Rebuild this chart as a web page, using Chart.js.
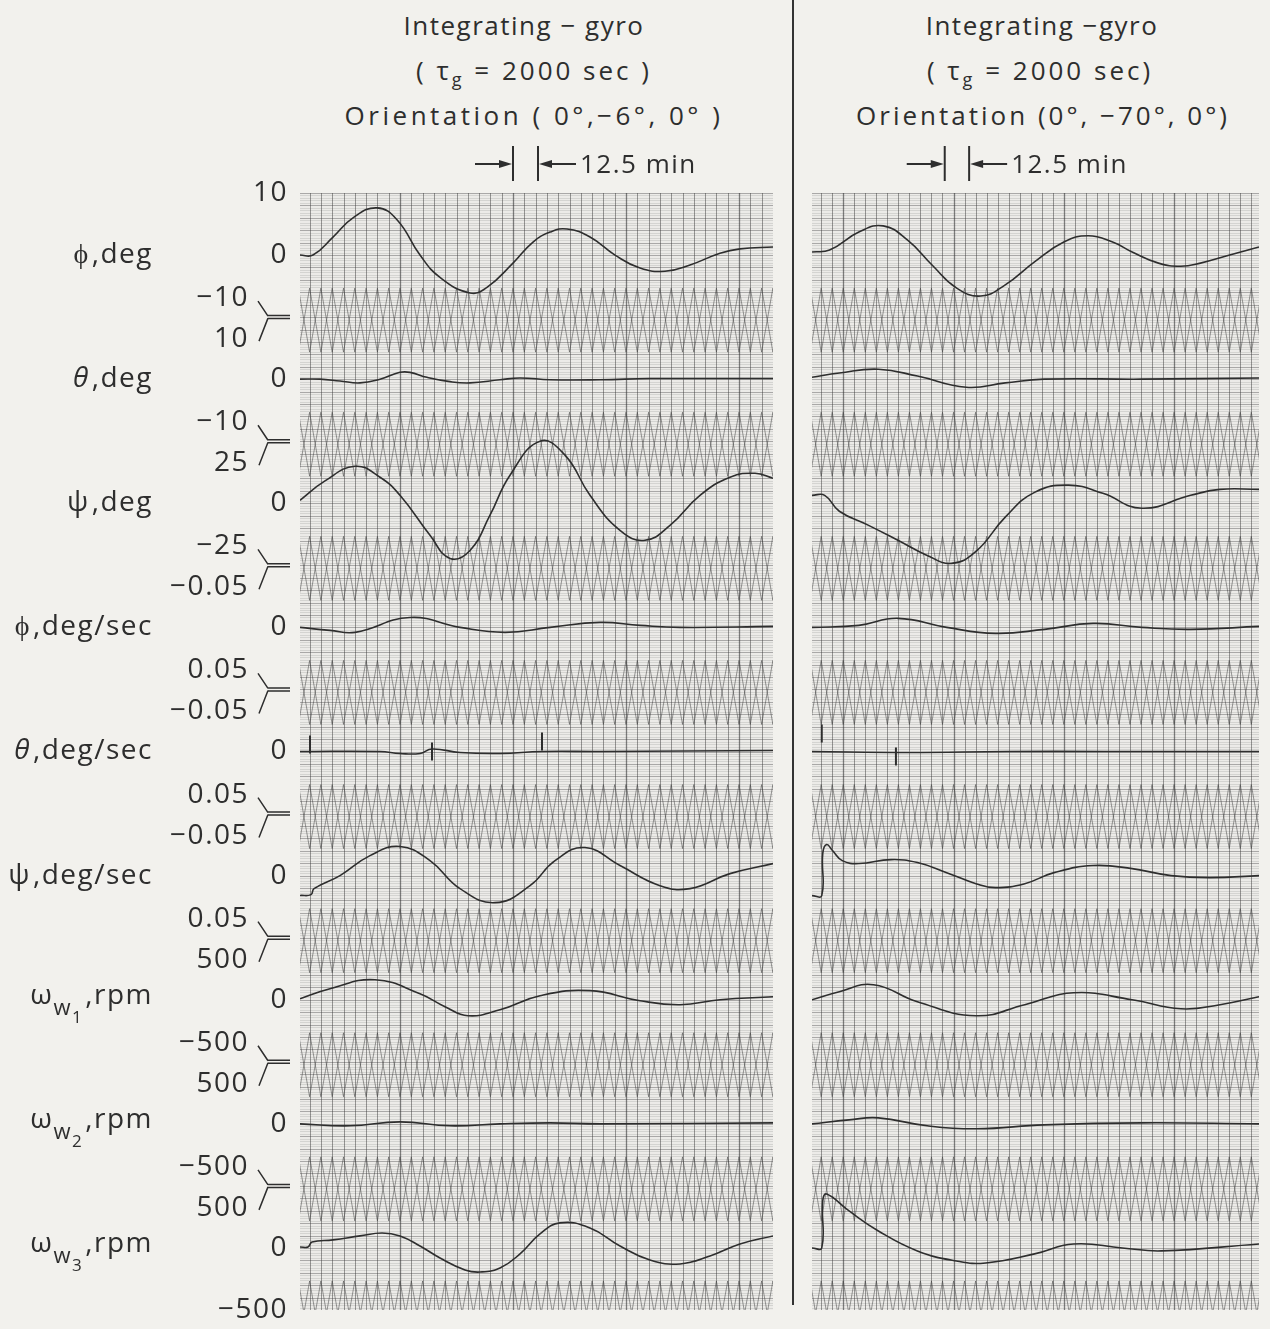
<!DOCTYPE html>
<html>
<head>
<meta charset="utf-8">
<script src="https://cdn.jsdelivr.net/npm/chart.js@4.4.0/dist/chart.umd.min.js"></script>
<style>
  body { margin: 0; background: #f2f1ed; width: 1270px; height: 1329px; overflow: hidden; position: relative; font-family: "Open Sans", sans-serif; color: #2e2e2e; }
  canvas { position: absolute; top: 0; }
  #cl { left: 0; }
  #cr { left: 800px; }
  .t { position: absolute; font-size: 26px; white-space: nowrap; transform: translateX(-50%); letter-spacing: 1.5px; line-height: 36px; }
  .t sub { font-size: 18px; vertical-align: -6px; }
  #divider { position: absolute; left: 792px; top: 0; width: 2px; height: 1305px; background: #333; }
</style>
</head>
<body>
<div class="t" style="left:524px;top:7px">Integrating − gyro</div>
<div class="t" style="left:534px;top:52px;letter-spacing:3px">( τ<sub>g</sub> = 2000 sec )</div>
<div class="t" style="left:534px;top:97px;letter-spacing:3.5px">Orientation ( 0°,−6°, 0° )</div>
<div class="t" style="left:1042px;top:7px">Integrating −gyro</div>
<div class="t" style="left:1040px;top:52px;letter-spacing:3px">( τ<sub>g</sub> = 2000 sec)</div>
<div class="t" style="left:1043px;top:97px;letter-spacing:3px">Orientation (0°, −70°, 0°)</div>
<div id="divider"></div>
<canvas id="cl" width="790" height="1329"></canvas>
<canvas id="cr" width="470" height="1329"></canvas>
<script>
// channel labels and scales (top of each strip = fullScale)
const channelNames = ["ϕ,deg", "θ,deg", "ψ,deg", "ϕ,deg/sec", "θ,deg/sec", "ψ,deg/sec", "ω,rpm", "ω,rpm", "ω,rpm"];
const wheelIndex = ["", "", "", "", "", "", "1", "2", "3"];
const fullScale = [10, 10, 25, -0.05, -0.05, -0.05, 500, 500, 500];
const topTick = "10";
const bottomTick = "−500";
const upperTicks = ["−10", "−10", "−25", "0.05", "0.05", "0.05", "−500", "−500"];
const lowerTicks = ["10", "25", "−0.05", "−0.05", "−0.05", "500", "500", "500"];
const markerLabel = "12.5 min";

// left panel, orientation (0,-6,0): [time min, value]
const leftPhi = [[0,0],[6.5,0],[16.5,2.9],[26.5,6.0],[38.5,7.6],[48.5,5.7],[60,0],[70,-3.6],[85,-6.1],[93.5,-5.2],[106.5,-1.3],[116.5,2.1],[125,3.7],[133.5,4.2],[145,2.9],[157.5,0],[170,-2.1],[182.5,-2.6],[195,-1.6],[210,0.3],[220,1.0],[236.5,1.3]];
const leftTheta = [[0,0],[10,0],[20,-0.3],[30,-0.6],[40,0],[50,1.1],[55,1.1],[63.5,0.3],[75,-0.4],[85,-0.6],[100,-0.1],[110,0.2],[125,-0.1],[150,-0.1],[175,0.1],[200,0.1],[236.5,0.1]];
const leftPsi = [[0,1.2],[12.5,9],[27.5,14.9],[40,10.5],[50,3.2],[65,-12.9],[75,-22.2],[85,-19],[95,-4.8],[105,11.3],[120,25],[132.5,19.4],[145,3.2],[160,-10.9],[172.5,-14.9],[185,-8.9],[200,3.2],[215,10.5],[227.5,12.1],[236.5,10.1]];
const leftPhiDot = [[0,0],[15,0.0024],[27.5,0.004],[55,-0.008],[80,0],[102.5,0.004],[125,0],[150,-0.004],[170,-0.0016],[190,0],[236.5,-0.0008]];
const leftThetaDot = [[0,0],[40,0],[50,0.0016],[60,0.0016],[66,-0.002],[80,0.0008],[100,0.0016],[121,0],[150,0],[236.5,-0.0008]];
const leftThetaMarks = [[5,-0.0056],[66,0],[121,-0.008]];
const leftPsiDot = [[0,0.016],[5.5,0.0153],[7,0.0105],[20,0],[35,-0.0161],[50,-0.0234],[65,-0.0121],[80,0.0105],[97.5,0.0218],[115,0.0081],[127.5,-0.0121],[142.5,-0.0226],[160,-0.0081],[180,0.0081],[195,0.0105],[215,-0.0016],[236.5,-0.0097]];
const leftW1 = [[0,8],[15,89],[37.5,161],[60,48],[72.5,-56],[84,-129],[100,-81],[120,32],[145,73],[170,-8],[190,-40],[210,0],[236.5,24]];
const leftW2 = [[0,0],[25,-16],[50,16],[75,-16],[100,0],[125,8],[150,0],[236.5,8]];
const leftW3 = [[0,8],[4,8],[6,48],[16.5,65],[30,97],[41,121],[50,97],[60,16],[70,-81],[82.5,-177],[90,-194],[100,-161],[110,-48],[120,113],[130,202],[145,161],[160,16],[175,-97],[190,-129],[205,-65],[220,32],[236.5,97]];

// right panel, orientation (0,-70,0)
const rightPhi = [[0,0.5],[9,0.8],[24,3.7],[36.5,4.7],[49,2.4],[61.5,-1.6],[74,-5.3],[86.5,-6.6],[99,-4.8],[114,-1.1],[129,2.1],[141.5,3.1],[154,2.1],[164,0.5],[177.5,-1.3],[189,-1.8],[199,-1.3],[214,0],[229,1.3]];
const rightTheta = [[0,0.3],[14,1.0],[34,1.6],[54,0.5],[79,-1.3],[99,-0.6],[119,0],[169,0],[229,0.2]];
const rightPsi = [[0,3.2],[6.5,3.2],[14,-3.2],[29,-8.9],[44,-14.9],[59,-21],[71.5,-24.2],[84,-19.4],[99,-5.6],[114,4.4],[131.5,7.3],[149,4],[169,-2],[194,3.2],[209,5.6],[229,5.6]];
const rightPhiDot = [[0,0],[24,-0.0016],[44,-0.0073],[69,0],[94,0.0048],[119,0.0016],[144,-0.0032],[169,0],[194,0.0016],[229,-0.0008]];
const rightThetaDot = [[0,0],[50,0.0008],[100,0],[150,0],[229,0]];
const rightThetaMarks = [[5,-0.0145],[43,0.004]];
const rightPsiDot = [[0,0.0161],[5,0.0161],[5.5,-0.0177],[7.5,-0.025],[10.5,-0.0202],[15.5,-0.0121],[24,-0.0097],[40.5,-0.0129],[54,-0.0105],[69,-0.0024],[84,0.0065],[94,0.0097],[109,0.0065],[124,-0.0024],[144,-0.0081],[164,-0.0056],[184,0],[204,0.0016],[229,0]];
const rightW1 = [[0,0],[14,65],[31.5,121],[54,-16],[84,-129],[109,-40],[134,56],[164,0],[189,-73],[209,-40],[229,24]];
const rightW2 = [[0,0],[19,32],[34,48],[59,-16],[84,-40],[119,-8],[169,8],[229,0]];
const rightW3 = [[0,0],[5,0],[5.5,379],[7.5,435],[19,298],[34,137],[54,-24],[74,-105],[89,-121],[114,-48],[134,32],[159,0],[179,-24],[229,32]];

const INK = '#2e2e2e';
const FONT = '28px "Open Sans"';

function toPts(series, i) {
  return series.map(p => ({ x: p[0], y: 8.5 - i + p[1] / fullScale[i] * 0.5 }));
}

// recorder paper: hatching, division lines and zigzag bands between strips
const paper = {
  id: 'paper',
  beforeDatasetsDraw(chart, args, o) {
    const { ctx, chartArea: a, scales: { x, y } } = chart;
    ctx.save();
    ctx.beginPath();
    ctx.rect(a.left, a.top, a.width, a.height);
    ctx.clip();
    ctx.fillStyle = '#ecebe8';
    ctx.fillRect(a.left, a.top, a.width, a.height);
    ctx.lineWidth = 1;
    for (let n = 0; n <= 450; n++) {
      const py = Math.round(y.getPixelForValue(n / 50)) + 0.5;
      ctx.strokeStyle = n % 5 === 0 ? 'rgba(60,60,60,0.38)' : 'rgba(80,80,80,0.15)';
      ctx.beginPath(); ctx.moveTo(a.left, py); ctx.lineTo(a.right, py); ctx.stroke();
    }
    const step = o.step;
    const start = o.heavy - Math.floor(o.heavy / step) * step;
    for (let j = -1; start + j * step <= x.max + step; j++) {
      const t = start + j * step;
      const px = Math.round(x.getPixelForValue(t)) + 0.5;
      const k = Math.round((t - o.heavy) / step);
      ctx.strokeStyle = k % 10 === 0 ? 'rgba(50,50,50,0.6)' : 'rgba(60,60,60,0.5)';
      ctx.lineWidth = k % 10 === 0 ? 1.3 : 1;
      ctx.beginPath(); ctx.moveTo(px, a.top); ctx.lineTo(px, a.bottom); ctx.stroke();
    }
    ctx.strokeStyle = 'rgba(60,60,60,0.5)';
    ctx.lineWidth = 1;
    for (let b = 1; b <= 9; b++) {
      const yc = y.getPixelForValue(9 - b) + 3;
      const top = yc - 32, bot = yc + 32;
      for (let phase = 0; phase < 2; phase++) {
        ctx.beginPath();
        for (let j = -1; start + j * step <= x.max + step; j++) {
          const px = x.getPixelForValue(start + j * step);
          const py = ((j + 2 + phase) % 2 === 0) ? top : bot;
          if (j === -1) ctx.moveTo(px, py); else ctx.lineTo(px, py);
        }
        ctx.stroke();
      }
    }
    ctx.restore();
  }
};

// 12.5 min time marker above each panel
const marker = {
  id: 'marker',
  afterDraw(chart, args, o) {
    const { ctx, scales: { x } } = chart;
    const x0 = x.getPixelForValue(o.t0), x1 = x.getPixelForValue(o.t0 + 12.5);
    ctx.save();
    ctx.strokeStyle = INK; ctx.fillStyle = INK; ctx.lineWidth = 2;
    ctx.beginPath();
    ctx.moveTo(x0, 146); ctx.lineTo(x0, 181);
    ctx.moveTo(x1, 146); ctx.lineTo(x1, 181);
    ctx.moveTo(x0 - 38, 164); ctx.lineTo(x0 - 6, 164);
    ctx.moveTo(x1 + 6, 164); ctx.lineTo(x1 + 38, 164);
    ctx.stroke();
    ctx.beginPath(); ctx.moveTo(x0 - 1, 164); ctx.lineTo(x0 - 14, 160); ctx.lineTo(x0 - 14, 168); ctx.fill();
    ctx.beginPath(); ctx.moveTo(x1 + 1, 164); ctx.lineTo(x1 + 14, 160); ctx.lineTo(x1 + 14, 168); ctx.fill();
    ctx.font = '26px "Open Sans"'; ctx.textBaseline = 'middle'; ctx.textAlign = 'left';
    ctx.letterSpacing = '1.5px';
    ctx.fillText(markerLabel, x1 + 42, 166);
    ctx.restore();
  }
};

// strip names, zero/full-scale values and the brackets at the strip joins
const axisText = {
  id: 'axisText',
  afterDraw(chart) {
    const { ctx, scales: { y } } = chart;
    ctx.save();
    ctx.fillStyle = INK; ctx.strokeStyle = INK; ctx.lineWidth = 1.5;
    ctx.textBaseline = 'middle';
    ctx.letterSpacing = '1.5px';
    for (let i = 0; i < 9; i++) {
      const zy = y.getPixelForValue(8.5 - i);
      ctx.font = FONT; ctx.textAlign = 'right';
      ctx.fillText('0', 288, zy);
      ctx.textAlign = 'left';
      if (wheelIndex[i]) {
        const head = channelNames[i].slice(0, 1), tail = channelNames[i].slice(1);
        ctx.font = FONT; const w1 = ctx.measureText(head).width, w4 = ctx.measureText(tail).width;
        ctx.font = '22px "Open Sans"'; const w2 = ctx.measureText('w').width;
        ctx.font = '17px "Open Sans"'; const w3 = ctx.measureText(wheelIndex[i]).width;
        let px = 153 - (w1 + w2 + w3 + w4 + 2);
        ctx.font = FONT; ctx.fillText(head, px, zy - 4); px += w1;
        ctx.font = '22px "Open Sans"'; ctx.fillText('w', px, zy + 9); px += w2;
        ctx.font = '17px "Open Sans"'; ctx.fillText(wheelIndex[i], px, zy + 18); px += w3 + 2;
        ctx.font = FONT; ctx.fillText(tail, px, zy - 4);
      } else {
        const head = channelNames[i].slice(0, 1), tail = channelNames[i].slice(1);
        ctx.font = FONT;
        const wt = ctx.measureText(tail).width;
        ctx.textAlign = 'right';
        ctx.fillText(tail, 153, zy);
        ctx.font = head === 'θ' ? 'italic 28px "Open Sans"' : FONT;
        ctx.fillText(head, 153 - wt - 2, zy);
      }
    }
    ctx.font = FONT; ctx.textAlign = 'right';
    ctx.fillText(topTick, 288, y.getPixelForValue(9));
    ctx.fillText(bottomTick, 288, y.getPixelForValue(0));
    for (let b = 1; b <= 8; b++) {
      const by = y.getPixelForValue(9 - b);
      ctx.fillText(upperTicks[b - 1], 249, by - 19);
      ctx.fillText(lowerTicks[b - 1], 249, by + 22);
      ctx.beginPath();
      ctx.moveTo(258, by - 16); ctx.lineTo(268, by - 1);
      ctx.moveTo(268, by + 1); ctx.lineTo(259, by + 24);
      ctx.moveTo(268, by - 1.5); ctx.lineTo(290, by - 1.5);
      ctx.moveTo(268, by + 1.5); ctx.lineTo(290, by + 1.5);
      ctx.stroke();
    }
    ctx.restore();
  }
};

function makeChart(id, series, marks, xMax, padLeft, padRight, heavy, t0, withAxis) {
  const datasets = series.map((s, i) => ({
    data: toPts(s, i),
    borderColor: INK, borderWidth: 1.6, pointRadius: 0,
    tension: 0.45, fill: false
  }));
  datasets.push({
    data: toPts(marks, 4),
    showLine: false, pointStyle: 'line', pointRotation: 90, pointRadius: 9,
    pointBorderColor: INK, pointBorderWidth: 2
  });
  return new Chart(document.getElementById(id), {
    type: 'line',
    data: { datasets },
    options: {
      responsive: false,
      animation: false,
      layout: { padding: { left: padLeft, right: padRight, top: 193, bottom: 19 } },
      scales: {
        x: { type: 'linear', min: 0, max: xMax, display: false },
        y: { min: 0, max: 9, display: false }
      },
      plugins: {
        legend: { display: false },
        tooltip: { enabled: false },
        paper: { step: 5.65, heavy: heavy },
        marker: { t0: t0 }
      }
    },
    plugins: withAxis ? [paper, marker, axisText] : [paper, marker]
  });
}

makeChart('cl',
  [leftPhi, leftTheta, leftPsi, leftPhiDot, leftThetaDot, leftPsiDot, leftW1, leftW2, leftW3],
  leftThetaMarks, 236.5, 300, 17, 50, 106.5, true);
makeChart('cr',
  [rightPhi, rightTheta, rightPsi, rightPhiDot, rightThetaDot, rightPsiDot, rightW1, rightW2, rightW3],
  rightThetaMarks, 229, 12, 0, 185.5, 68, false);
</script>
</body>
</html>
